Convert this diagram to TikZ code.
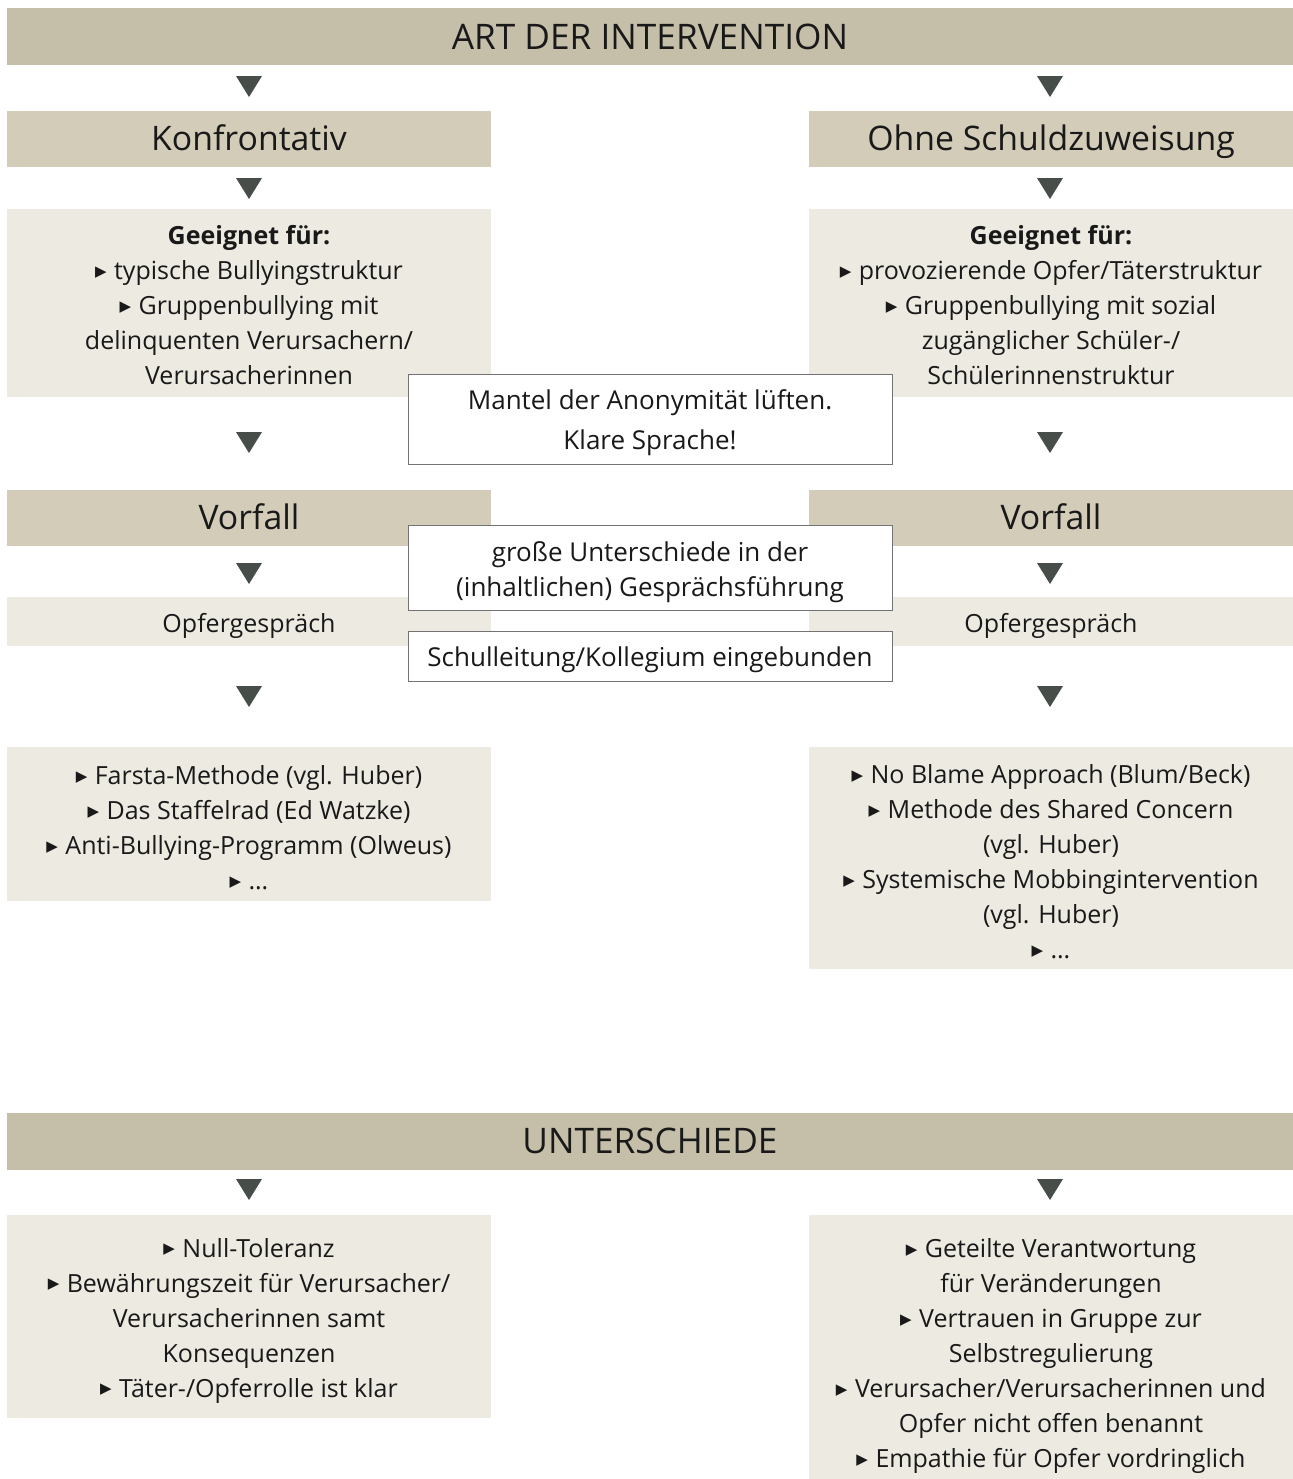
\documentclass[tikz,border=0pt]{standalone}
\usepackage{fontspec}
\setmainfont{Open Sans}
\newfontfamily\symfont{DejaVu Sans}
\usetikzlibrary{positioning}
\definecolor{hdr}{HTML}{C5BEA8}
\definecolor{mid}{HTML}{D3CCB8}
\definecolor{pale}{HTML}{EDEAE2}
\definecolor{tricol}{HTML}{474D48}
\newcommand{\bu}{\raisebox{1.6pt}{\symfont\fontsize{7.5}{7.5}\selectfont ▶}\hspace{0.3em}}
\newcommand{\sk}[1][13.5pt]{\rule{0pt}{#1}}

\begin{document}
\begin{tikzpicture}[x=0.5pt, y=-0.5pt, every node/.style = {align=center, inner sep=0pt, text=black!90, font=\fontsize{12.5}{17.5}\selectfont}, head/.style = {fill=hdr, minimum width=643pt, minimum height=28.5pt, text height=15.5pt, text depth=3pt, font=\fontsize{17.6}{17.6}\selectfont}, kind/.style = {fill=mid, minimum width=242pt, minimum height=28pt, text height=14pt, text depth=3pt, font=\fontsize{16.9}{16.9}\selectfont}, info/.style = {fill=pale, minimum width=242pt}, note/.style = {fill=white, draw=black!55, line width=0.5pt, minimum width=242pt, font=\fontsize{13}{17.5}\selectfont}]
\useasboundingbox (0,0) rectangle (1293,1479);
% upper part
\node[head] (art) at (650,36.5) {ART DER INTERVENTION};
\node[kind] (konf) at (249,139) {Konfrontativ};
\node[kind] (ohne) at (1051,139) {Ohne Schuldzuweisung};
\node[info, minimum height=94pt] (geeigL) at (249,303) {\sk[11.5pt]\textbf{Geeignet für:}\\ \bu typische Bullyingstruktur\\ \bu Gruppenbullying mit\\ delinquenten Verursachern/\\ Verursacherinnen};
\node[info, minimum height=94pt] (geeigR) at (1051,303) {\sk[11.5pt]\textbf{Geeignet für:}\\ \bu provozierende Opfer/Täterstruktur\\ \bu Gruppenbullying mit sozial\\ zugänglicher Schüler-/\\ Schülerinnenstruktur};
\node[kind] (vorfL) at (249,518) {Vorfall};
\node[kind] (vorfR) at (1051,518) {Vorfall};
\node[info, minimum height=24.5pt] (opfL) at (249,621.5) {\sk Opfergespräch};
\node[info, minimum height=24.5pt] (opfR) at (1051,621.5) {\sk Opfergespräch};
\node[info, minimum height=77pt] (methL) at (249,824) {\sk\bu Farsta-Methode (vgl. Huber)\\ \bu Das Staffelrad (Ed Watzke)\\ \bu Anti-Bullying-Programm (Olweus)\\ \bu \dots};
\node[info, minimum height=111pt] (methR) at (1051,858) {\sk\bu No Blame Approach (Blum/Beck)\\ \bu Methode des Shared Concern\\ (vgl. Huber)\\ \bu Systemische Mobbingintervention\\ (vgl. Huber)\\ \bu \dots};
% middle notes
\node[note, minimum height=45pt, font=\fontsize{13}{20}\selectfont] (mantel) at (650,419) {\sk[14pt]Mantel der Anonymität lüften.\\ Klare Sprache!};
\node[note, minimum height=42.5pt] (gross) at (650,567.5) {\sk[14.5pt]große Unterschiede in der\\ (inhaltlichen) Gesprächsführung};
\node[note, minimum height=25pt] (schul) at (650,656) {\sk Schulleitung/Kollegium eingebunden};
% lower part
\node[head] (unt) at (650,1141) {UNTERSCHIEDE};
\node[info, minimum height=101.5pt] (untL) at (249,1316.5) {\sk\bu Null-Toleranz\\ \bu Bewährungszeit für Verursacher/\\ Verursacherinnen samt\\ Konsequenzen\\ \bu Täter-/Opferrolle ist klar};
\node[info, minimum height=132pt] (untR) at (1051,1347) {\sk[18.5pt]\bu Geteilte Verantwortung\\ für Veränderungen\\ \bu Vertrauen in Gruppe zur\\ Selbstregulierung\\ \bu Verursacher/Verursacherinnen und\\ Opfer nicht offen benannt\\ \bu Empathie für Opfer vordringlich};
% triangles
\foreach \x in {249,1050}
	\foreach \y in {76,178,432,563,686,1179}
		\fill[tricol] (\x-13,\y) -- ++(26,0) -- ++(-13,21) -- cycle;
\end{tikzpicture}
\end{document}
